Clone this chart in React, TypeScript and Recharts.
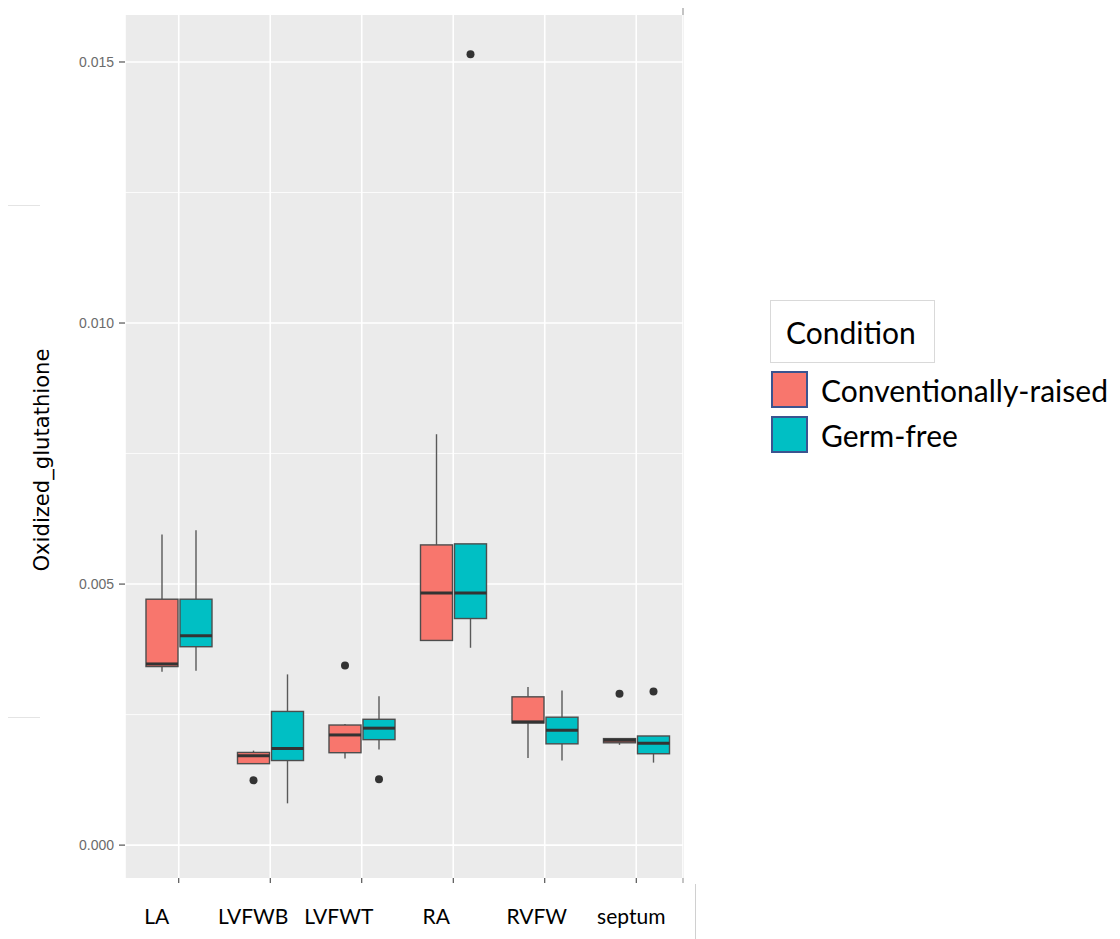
import { ComposedChart, Bar, XAxis, YAxis, CartesianGrid, Legend } from "recharts";

const CATEGORIES = ["LA", "LVFWB", "LVFWT", "RA", "RVFW", "septum"];

// Conventionally-raised
const CR_LOW = [0.00332, 0.00156, 0.00166, 0.00392, 0.00167, 0.00192];
const CR_Q1 = [0.00342, 0.00156, 0.00177, 0.00392, 0.00234, 0.00196];
const CR_MEDIAN = [0.00347, 0.00171, 0.00211, 0.00483, 0.00236, 0.00201];
const CR_Q3 = [0.00471, 0.001775, 0.0023, 0.00575, 0.00284, 0.00204];
const CR_HIGH = [0.00595, 0.00181, 0.00232, 0.00787, 0.00303, 0.00205];
const CR_OUTLIERS = [[], [0.00124], [0.00344], [], [], [0.0029]];

// Germ-free
const GF_LOW = [0.00334, 0.0008, 0.00183, 0.00378, 0.00162, 0.00158];
const GF_Q1 = [0.0038, 0.00162, 0.00202, 0.00434, 0.00194, 0.00175];
const GF_MEDIAN = [0.00401, 0.00185, 0.00224, 0.00483, 0.0022, 0.00195];
const GF_Q3 = [0.00471, 0.00256, 0.00241, 0.00577, 0.00245, 0.00209];
const GF_HIGH = [0.00603, 0.00327, 0.00285, 0.00577, 0.00296, 0.00209];
const GF_OUTLIERS = [[], [], [0.00126], [0.01515], [], [0.00294]];

const Y_TICKS = [0, 0.005, 0.01, 0.015];
const Y_MINOR = [0.0025, 0.0075, 0.0125];

const GROUPS = [
  { key: "cr", name: "Conventionally-raised", color: "#F8766D", low: CR_LOW, q1: CR_Q1, median: CR_MEDIAN, q3: CR_Q3, high: CR_HIGH, outliers: CR_OUTLIERS },
  { key: "gf", name: "Germ-free", color: "#00BFC4", low: GF_LOW, q1: GF_Q1, median: GF_MEDIAN, q3: GF_Q3, high: GF_HIGH, outliers: GF_OUTLIERS },
];

type Group = (typeof GROUPS)[number];

// full vertical extent of each box (whiskers + outliers) drives the range bar
const extent = (g: Group, i: number): [number, number] => [
  Math.min(g.low[i], ...g.outliers[i]),
  Math.max(g.high[i], ...g.outliers[i]),
];

const data = CATEGORIES.map((name, i) => ({
  name,
  cr: extent(GROUPS[0], i),
  gf: extent(GROUPS[1], i),
}));

// hand placement of the pasted-in category labels
const LABEL_NUDGE = [-22, -17, -23, -17, -8, -5];

function makeBoxShape(g: Group) {
  return (props: any) => {
    const { x, y, width, height, index } = props;
    const [lo, hi] = extent(g, index);
    const top = Math.min(y, y + height);
    const h = Math.abs(height);
    const py = (v: number) => (hi === lo ? top : top + ((hi - v) / (hi - lo)) * h);
    const cx = x + width / 2;
    const yQ1 = py(g.q1[index]);
    const yQ3 = py(g.q3[index]);
    const yMed = py(g.median[index]);
    return (
      <g>
        <line x1={cx} x2={cx} y1={py(g.high[index])} y2={yQ3} stroke="#595959" strokeWidth={1.4} />
        <line x1={cx} x2={cx} y1={yQ1} y2={py(g.low[index])} stroke="#595959" strokeWidth={1.4} />
        <rect x={x} y={yQ3} width={width} height={Math.max(yQ1 - yQ3, 0.5)} fill={g.color} stroke="#4d4d4d" strokeWidth={1.4} />
        <line x1={x} x2={x + width} y1={yMed} y2={yMed} stroke="#333333" strokeWidth={3} />
        {g.outliers[index].map((v, k) => (
          <circle key={k} cx={cx} cy={py(v)} r={4} fill="#333333" />
        ))}
      </g>
    );
  };
}

function CategoryTick(props: any) {
  const { x, y, payload, index } = props;
  return (
    <text
      x={x + (LABEL_NUDGE[index] ?? 0)}
      y={y}
      dy={39}
      textAnchor="middle"
      fill="#000"
      style={{ fontFamily: "Lato, 'Noto Sans', sans-serif", fontSize: 21 }}
    >
      {payload.value}
    </text>
  );
}

function YTitle(props: any) {
  const { viewBox } = props;
  const cx = viewBox.x + 49;
  const cy = 460;
  return (
    <text
      x={cx}
      y={cy}
      transform={`rotate(-90, ${cx}, ${cy})`}
      textAnchor="middle"
      textLength={223}
      lengthAdjust="spacingAndGlyphs"
      fill="#000"
      style={{ fontFamily: "'Liberation Sans Narrow', 'DejaVu Sans Condensed', 'Liberation Sans', sans-serif", fontSize: 22 }}
    >
      Oxidized_glutathione
    </text>
  );
}

function ConditionLegend() {
  const font = "Lato, 'Noto Sans', sans-serif";
  return (
    <div style={{ fontFamily: font, color: "#000" }}>
      <div
        style={{
          marginLeft: 8,
          width: 163,
          height: 61,
          border: "1px solid #d9d9d9",
          boxSizing: "content-box",
          display: "flex",
          alignItems: "center",
        }}
      >
        <span style={{ fontSize: 30, marginLeft: 15 }}>Condition</span>
      </div>
      {GROUPS.map((g) => (
        <div key={g.key} style={{ display: "flex", alignItems: "center", marginLeft: 9, marginTop: 8 }}>
          <span
            style={{
              width: 33,
              height: 33,
              background: g.color,
              border: "2px solid #3b5490",
              display: "inline-block",
            }}
          />
          <span style={{ fontSize: 30, marginLeft: 13, lineHeight: "36px" }}>{g.name}</span>
        </div>
      ))}
    </div>
  );
}

export default function App() {
  return (
    <div style={{ position: "relative", left: -8, top: -8, width: 1120, height: 939, background: "#fff" }}>
      {/* stray marks from the original figure */}
      <div style={{ position: "absolute", left: 8, top: 205, width: 32, height: 1, background: "#e4e4e4" }} />
      <div style={{ position: "absolute", left: 8, top: 717, width: 32, height: 1, background: "#e4e4e4" }} />
      <div style={{ position: "absolute", left: 682, top: 5, width: 2, height: 878, background: "#c4c4c4" }} />
      <div style={{ position: "absolute", left: 695, top: 884, width: 1, height: 55, background: "#d0d0d0" }} />
      <div style={{ position: "absolute", left: 0, top: 0 }}>
        <ComposedChart
          width={1120}
          height={939}
          data={data}
          margin={{ top: 15, right: 437, bottom: 0, left: 0 }}
          barSize={32}
          barGap={2}
        >
          <CartesianGrid
            fill="#EBEBEB"
            stroke="#ffffff"
            strokeWidth={0.8}
            vertical={false}
            horizontalValues={Y_MINOR}
          />
          <CartesianGrid stroke="#ffffff" strokeWidth={1.6} horizontalValues={Y_TICKS} />
          <XAxis
            dataKey="name"
            type="category"
            height={61}
            padding={{ left: 8, right: 1 }}
            axisLine={false}
            tickLine={{ stroke: "#333333" }}
            tickSize={5}
            tick={<CategoryTick />}
            interval={0}
          />
          <YAxis
            type="number"
            width={125}
            domain={[-0.00063, 0.0159]}
            allowDataOverflow
            ticks={Y_TICKS}
            tickFormatter={(v: number) => v.toFixed(3)}
            axisLine={false}
            tickLine={{ stroke: "#333333" }}
            tickSize={6}
            tickMargin={5}
            tick={{ fill: "#6b6b6b", fontSize: 14, fontFamily: "'Liberation Sans', Arial, sans-serif" }}
            label={<YTitle />}
          />
          {GROUPS.map((g) => (
            <Bar
              key={g.key}
              dataKey={g.key}
              name={g.name}
              fill={g.color}
              shape={makeBoxShape(g)}
              isAnimationActive={false}
            />
          ))}
          <Legend
            layout="vertical"
            align="center"
            verticalAlign="middle"
            content={<ConditionLegend />}
            wrapperStyle={{ left: 762, top: 300, width: 358, height: "auto" }}
          />
        </ComposedChart>
      </div>
    </div>
  );
}
